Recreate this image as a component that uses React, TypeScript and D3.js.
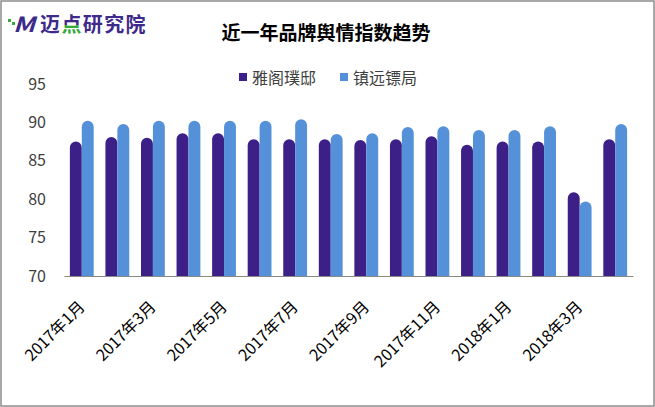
import React, { useRef, useEffect } from "react";
import * as d3 from "d3";

const months = [
  "2017年1月", "2017年2月", "2017年3月", "2017年4月", "2017年5月", "2017年6月",
  "2017年7月", "2017年8月", "2017年9月", "2017年10月", "2017年11月", "2017年12月",
  "2018年1月", "2018年2月", "2018年3月", "2018年4月",
];
const seriesNames = ["雅阁璞邸", "镇远镖局"];
const yage = [87.5, 88.1, 88.0, 88.6, 88.6, 87.8, 87.8, 87.8, 87.7, 87.8, 88.2, 87.1, 87.5, 87.5, 80.9, 87.8];
const zhenyuan = [90.2, 89.8, 90.2, 90.2, 90.2, 90.2, 90.4, 88.5, 88.6, 89.4, 89.5, 89.0, 89.0, 89.5, 79.7, 89.8];
const yTicks = [70, 75, 80, 85, 90, 95];

const colors = ["#3c1f87", "#5591d9"];
const font = "'Noto Sans CJK SC', 'Noto Sans', sans-serif";

function App() {
  const svgRef = useRef<any>();

  useEffect(() => {
    document.body.style.margin = "0";
    const svg = d3.select(svgRef.current);
    svg.selectAll("*").remove();

    const W = 655;
    const H = 407;

    // frame
    svg
      .append("rect")
      .attr("x", 1)
      .attr("y", 1)
      .attr("width", W - 2)
      .attr("height", H - 2)
      .attr("fill", "#fff")
      .attr("stroke", "#8c8c8c")
      .attr("stroke-width", 1.5);

    // logo
    const logo = svg.append("g").attr("font-family", font).attr("font-weight", 700);
    const grad = svg.append("defs").append("linearGradient")
      .attr("id", "dianGrad").attr("x1", 0).attr("y1", 0).attr("x2", 0).attr("y2", 1);
    grad.append("stop").attr("offset", "55%").attr("stop-color", "#3d2a8a");
    grad.append("stop").attr("offset", "56%").attr("stop-color", "#35a93c");
    logo.append("rect").attr("x", 8).attr("y", 19).attr("width", 3).attr("height", 3).attr("fill", "#35a93c");
    logo.append("rect").attr("x", 12).attr("y", 22).attr("width", 3).attr("height", 3).attr("fill", "#35a93c");
    logo.append("text").attr("x", 13).attr("y", 32).attr("font-size", 21)
      .attr("font-style", "italic").attr("fill", "#3d2a8a")
      .attr("textLength", 22).attr("lengthAdjust", "spacingAndGlyphs").text("M");
    const chars = ["迈", "点", "研", "究", "院"];
    chars.forEach((c, i) => {
      logo.append("text").attr("x", 40 + i * 21.4).attr("y", 32).attr("font-size", 20)
        .attr("fill", c === "点" ? "url(#dianGrad)" : "#3d2a8a")
        .attr("textLength", 20).attr("lengthAdjust", "spacingAndGlyphs").text(c);
    });

    // title
    svg.append("text")
      .attr("x", 326).attr("y", 40)
      .attr("text-anchor", "middle")
      .attr("font-family", font).attr("font-weight", 700)
      .attr("font-size", 19).attr("fill", "#000")
      .text("近一年品牌舆情指数趋势");

    // legend
    const legendX = [239, 340];
    seriesNames.forEach((name, i) => {
      svg.append("rect").attr("x", legendX[i]).attr("y", 73).attr("width", 8).attr("height", 8).attr("fill", colors[i]);
      svg.append("text").attr("x", legendX[i] + 13).attr("y", 84)
        .attr("font-family", font).attr("font-size", 16).attr("fill", "#404040").text(name);
    });

    const x = d3.scaleBand<string>().domain(months).range([64, 633]).paddingInner(0.33).paddingOuter(0.165);
    const xs = d3.scaleBand<string>().domain(seriesNames).range([0, x.bandwidth()]);
    const y = d3.scaleLinear().domain([70, 95]).range([276, 84]);

    // y axis labels
    const yAxis = svg.append("g").attr("transform", "translate(52,0)")
      .call(d3.axisLeft(y).tickValues(yTicks).tickSize(0).tickPadding(6));
    yAxis.select(".domain").remove();
    yAxis.selectAll("text").attr("font-family", font).attr("font-size", 16).attr("fill", "#404040");

    // bars with round tops
    const seriesData = [yage, zhenyuan];
    const barPath = (x0: number, w: number, top: number, bottom: number) => {
      const r = w / 2;
      return `M${x0},${bottom}L${x0},${top + r}A${r},${r} 0 0 1 ${x0 + w},${top + r}L${x0 + w},${bottom}Z`;
    };
    seriesData.forEach((vals, si) => {
      svg.append("g")
        .selectAll("path")
        .data(vals)
        .join("path")
        .attr("d", (v, i) => barPath(x(months[i])! + xs(seriesNames[si])!, xs.bandwidth(), y(v), y(70)))
        .attr("fill", colors[si]);
    });

    // x axis
    const xAxis = svg.append("g").attr("transform", `translate(0,${y(70)})`)
      .call(d3.axisBottom(x).tickSize(0).tickFormat(() => ""));
    xAxis.select(".domain").attr("stroke", "#898989").attr("stroke-width", 1.2);
    xAxis.selectAll("text").remove();

    svg.append("g")
      .selectAll("text")
      .data(months.filter((_, i) => i % 2 === 0))
      .join("text")
      .attr("transform", (d) => `translate(${x(d)! + x.bandwidth() / 2 + 4},${y(70) + 32}) rotate(-45)`)
      .attr("text-anchor", "end")
      .attr("font-family", font)
      .attr("font-size", 16)
      .attr("fill", "#000")
      .text((d) => d);
  }, []);

  return (
    <div>
      <svg ref={svgRef} width={655} height={407} style={{ position: "absolute", left: 0, top: 0 }} />
    </div>
  );
}

export default App;
